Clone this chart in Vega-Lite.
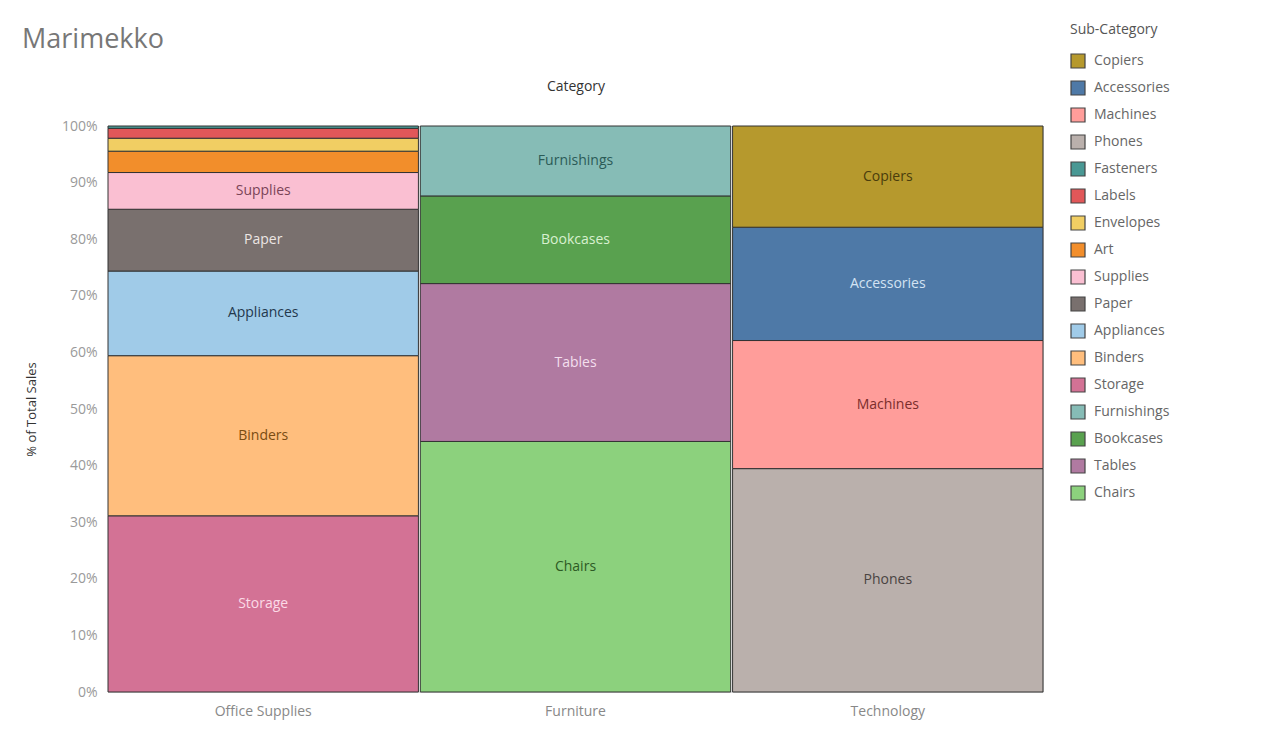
{
  "$schema": "https://vega.github.io/schema/vega-lite/v6.json",
  "width": 935,
  "height": 566,
  "autosize": {"type": "none"},
  "padding": {"left": 108, "top": 126, "right": 236, "bottom": 55},
  "background": "white",
  "title": {
    "text": "Marimekko",
    "anchor": "start",
    "frame": "group",
    "fontSize": 27,
    "fontWeight": "normal",
    "color": "#777777",
    "font": "Open Sans",
    "baseline": "alphabetic",
    "dx": -86,
    "dy": 80,
    "offset": 28
  },
  "data": {
    "values": [
      {"cat": "Office Supplies", "sub": "Storage", "sales": 223844},
      {"cat": "Office Supplies", "sub": "Binders", "sales": 203413},
      {"cat": "Office Supplies", "sub": "Appliances", "sales": 107532},
      {"cat": "Office Supplies", "sub": "Paper", "sales": 78479},
      {"cat": "Office Supplies", "sub": "Supplies", "sales": 46674},
      {"cat": "Office Supplies", "sub": "Art", "sales": 27119},
      {"cat": "Office Supplies", "sub": "Envelopes", "sales": 16476},
      {"cat": "Office Supplies", "sub": "Labels", "sales": 12486},
      {"cat": "Office Supplies", "sub": "Fasteners", "sales": 3024},
      {"cat": "Furniture", "sub": "Chairs", "sales": 328449},
      {"cat": "Furniture", "sub": "Tables", "sales": 206966},
      {"cat": "Furniture", "sub": "Bookcases", "sales": 114880},
      {"cat": "Furniture", "sub": "Furnishings", "sales": 91705},
      {"cat": "Technology", "sub": "Phones", "sales": 330007},
      {"cat": "Technology", "sub": "Machines", "sales": 189239},
      {"cat": "Technology", "sub": "Accessories", "sales": 167380},
      {"cat": "Technology", "sub": "Copiers", "sales": 149528}
    ]
  },
  "transform": [
    {"joinaggregate": [{"op": "sum", "field": "sales", "as": "total"}], "groupby": ["cat"]},
    {"window": [{"op": "sum", "field": "sales", "as": "cum"}], "groupby": ["cat"], "sort": [{"field": "sales", "order": "descending"}], "frame": [null, 0]},
    {"calculate": "(datum.cum - datum.sales) / datum.total", "as": "y1"},
    {"calculate": "datum.cum / datum.total", "as": "y2"},
    {"calculate": "(datum.y1 + datum.y2) / 2", "as": "mid"},
    {"calculate": "datum.sales / datum.total", "as": "pct"}
  ],
  "encoding": {
    "x": {
      "field": "cat",
      "type": "nominal",
      "sort": ["Office Supplies", "Furniture", "Technology"],
      "scale": {"paddingInner": 0.006, "paddingOuter": 0},
      "axis": {
        "title": "Category",
        "titleY": -606,
        "titleBaseline": "middle",
        "titleFontSize": 14,
        "titleFontWeight": "normal",
        "titleColor": "#333333",
        "titleFont": "Open Sans",
        "labelAngle": 0,
        "labelFont": "Open Sans",
        "labelFontSize": 14,
        "labelColor": "#888888",
        "labelPadding": 12,
        "ticks": false,
        "domain": false
      }
    }
  },
  "layer": [
    {
      "mark": {"type": "bar", "stroke": "#333333", "strokeWidth": 1},
      "encoding": {
        "y": {
          "field": "y1",
          "type": "quantitative",
          "scale": {"domain": [0, 1], "nice": false},
          "axis": {
            "title": "% of Total Sales",
            "format": ".0%",
            "values": [0, 0.1, 0.2, 0.3, 0.4, 0.5, 0.6, 0.7, 0.8, 0.9, 1],
            "grid": false,
            "ticks": false,
            "domain": false,
            "labelFont": "Open Sans",
            "labelFontSize": 14,
            "labelColor": "#9a9a9a",
            "labelPadding": 11,
            "titleFont": "Open Sans",
            "titleFontSize": 13,
            "titleFontWeight": "normal",
            "titleColor": "#333333",
            "titleX": -70
          }
        },
        "y2": {"field": "y2"},
        "fill": {
          "field": "sub",
          "type": "nominal",
          "title": "Sub-Category",
          "scale": {
            "domain": ["Copiers", "Accessories", "Machines", "Phones", "Fasteners", "Labels", "Envelopes", "Art", "Supplies", "Paper", "Appliances", "Binders", "Storage", "Furnishings", "Bookcases", "Tables", "Chairs"],
            "range": ["#b6992d", "#4e79a7", "#ff9d9a", "#bab0ac", "#499894", "#e15759", "#f1ce63", "#f28e2b", "#fabfd2", "#79706e", "#a0cbe8", "#ffbe7d", "#d37295", "#86bcb6", "#59a14f", "#b07aa1", "#8cd17d"]
          },
          "legend": {
            "orient": "none",
            "legendX": 962,
            "legendY": -103,
            "symbolType": "square",
            "symbolSize": 196,
            "symbolStrokeColor": "#444444",
            "symbolStrokeWidth": 1.2,
            "symbolOpacity": 1,
            "labelFont": "Open Sans",
            "labelFontSize": 14,
            "labelColor": "#666666",
            "titleFont": "Open Sans",
            "titleFontSize": 14,
            "titleFontWeight": "normal",
            "titleColor": "#555555",
            "titlePadding": 16,
            "rowPadding": 7,
            "labelOffset": 8
          }
        }
      }
    },
    {
      "transform": [{"filter": "datum.pct >= 0.05"}],
      "mark": {"type": "text", "font": "Open Sans", "fontSize": 14, "baseline": "middle"},
      "encoding": {
        "y": {"field": "mid", "type": "quantitative"},
        "text": {"field": "sub"},
        "color": {
          "field": "sub",
          "type": "nominal",
          "legend": null,
          "scale": {
            "domain": ["Copiers", "Accessories", "Machines", "Phones", "Supplies", "Paper", "Appliances", "Binders", "Storage", "Furnishings", "Bookcases", "Tables", "Chairs"],
            "range": ["#4a3d0c", "#d3e3f3", "#7a2e2c", "#4a4442", "#7a4458", "#ece6e4", "#23384d", "#7a4c12", "#fbdbe7", "#2b5b57", "#d8f0d0", "#f3dfee", "#2c5a24"]
          }
        }
      }
    }
  ]
}
